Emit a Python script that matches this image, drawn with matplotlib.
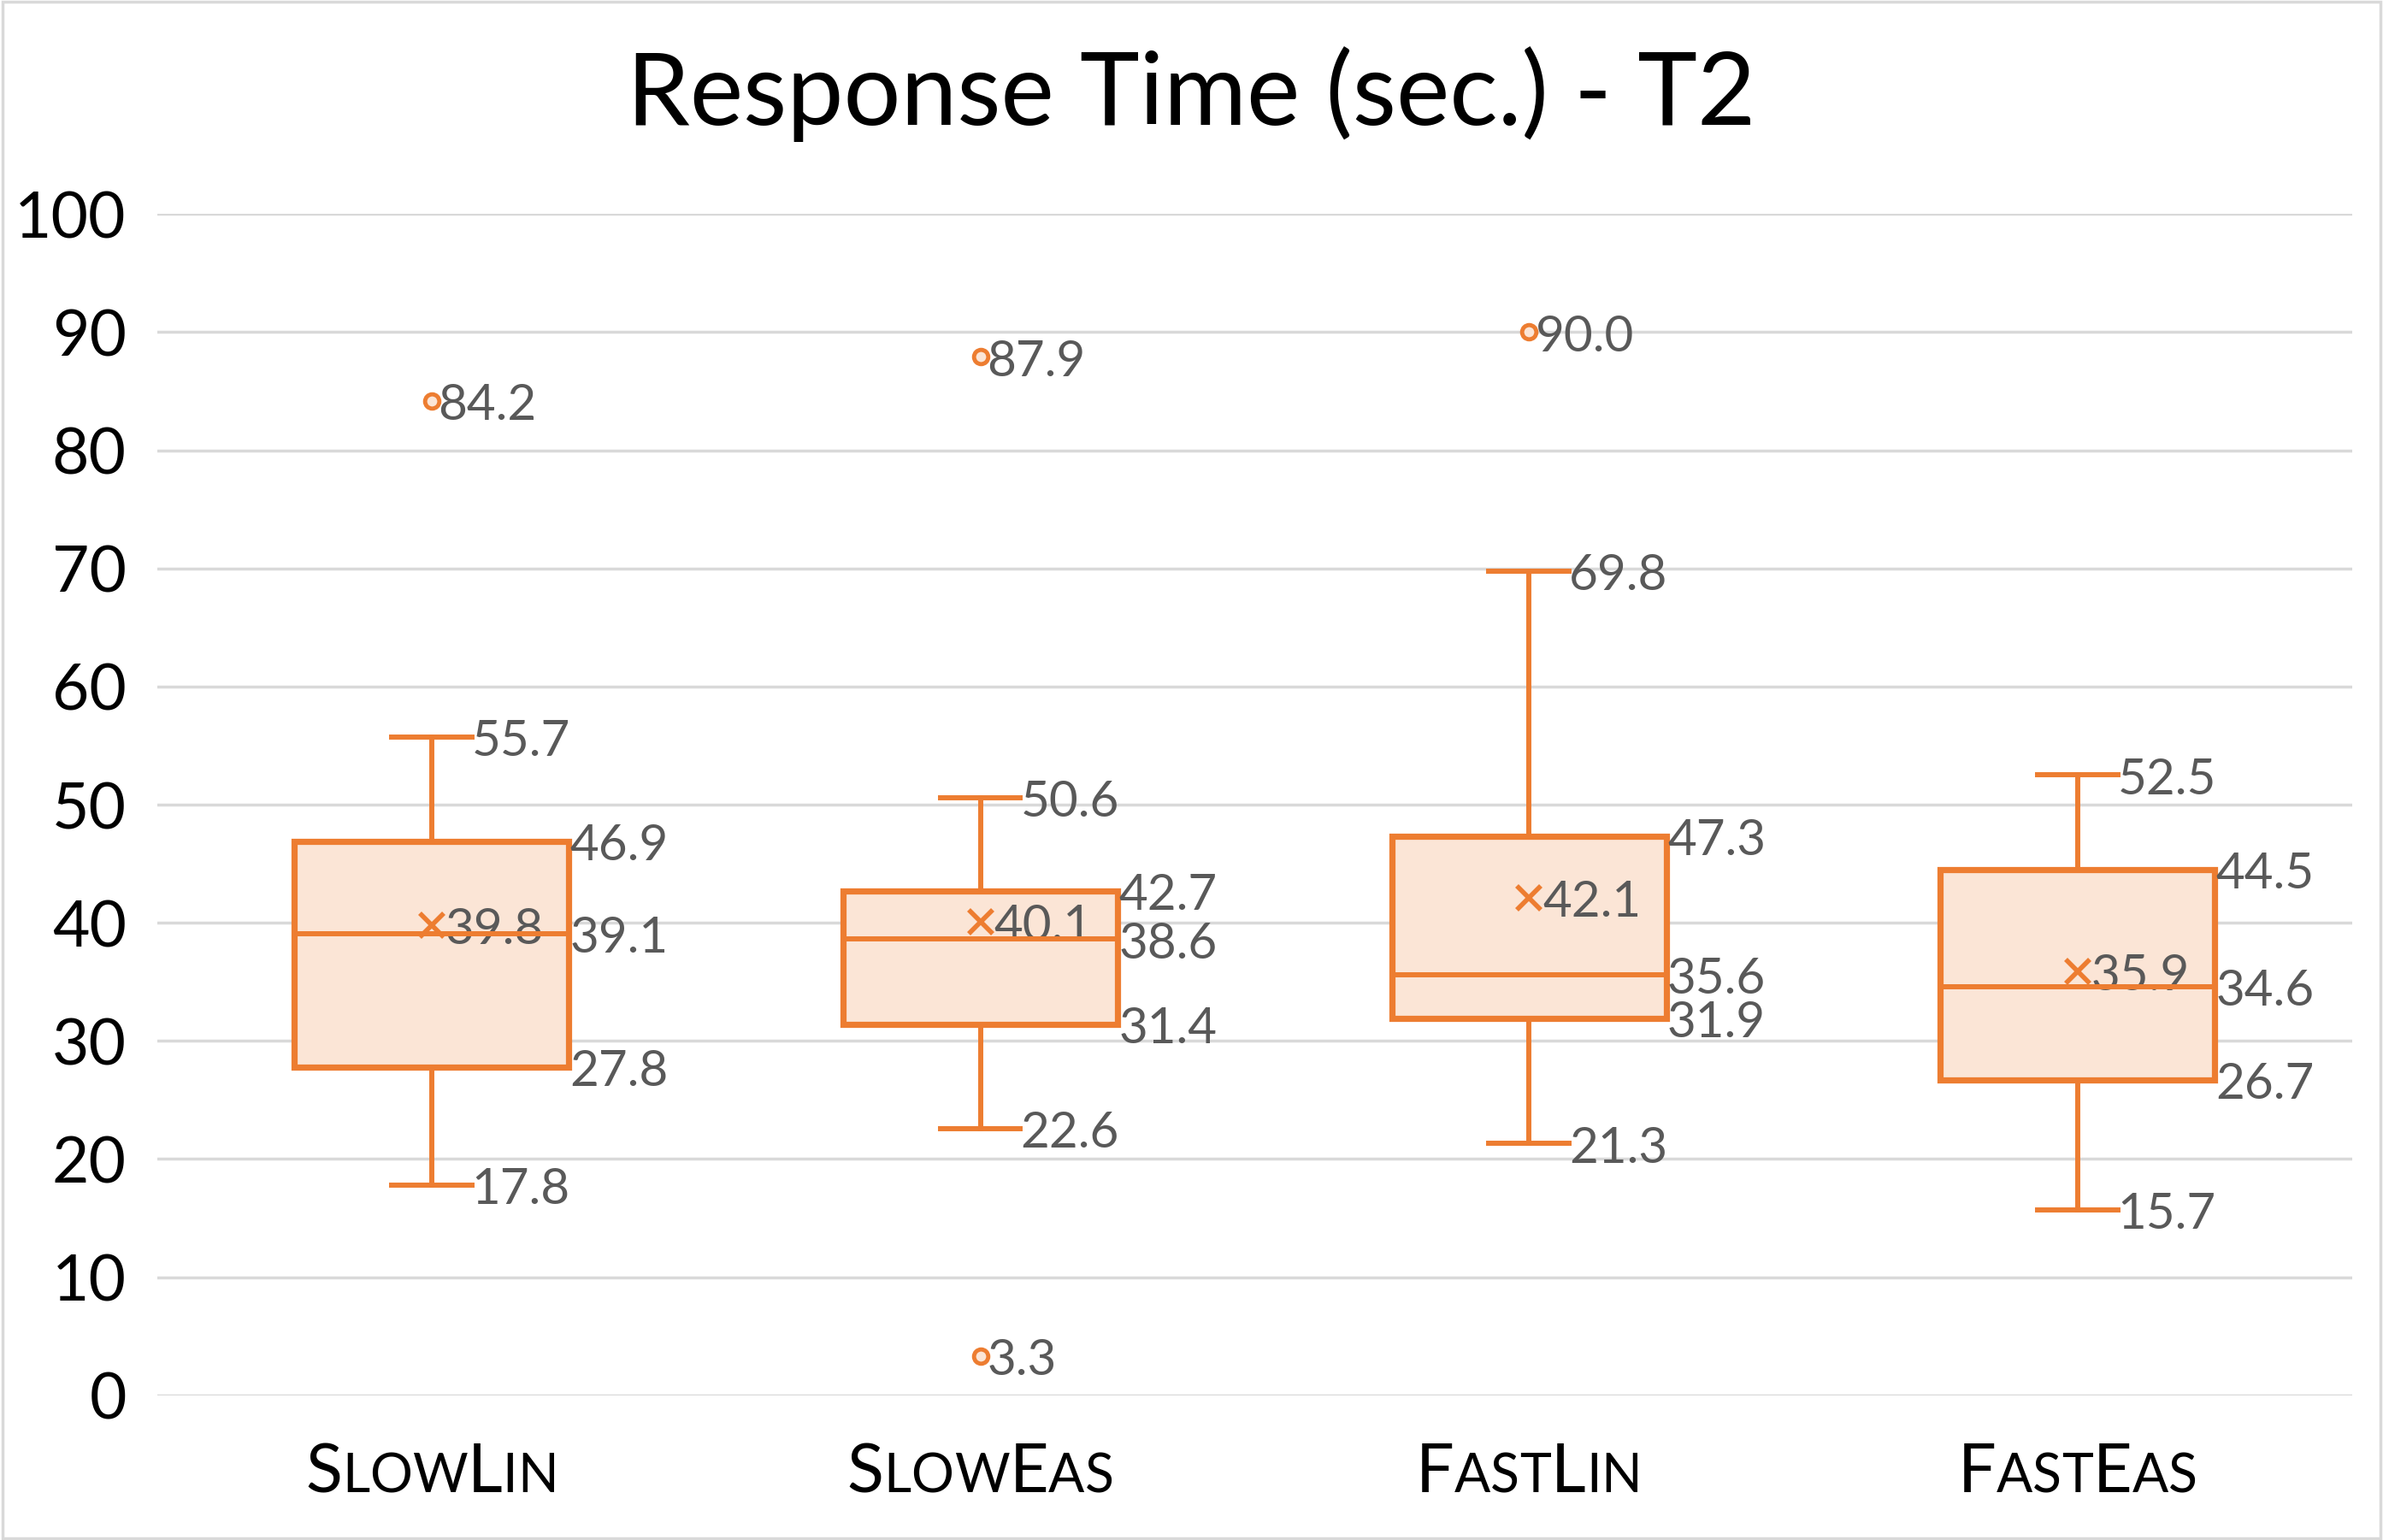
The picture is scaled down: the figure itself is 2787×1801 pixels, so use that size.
import matplotlib
matplotlib.use("Agg")
import matplotlib.pyplot as plt
from matplotlib.offsetbox import TextArea, HPacker, AnnotationBbox
from matplotlib.patches import Rectangle

plt.rcParams['font.family'] = ['Lato', 'DejaVu Sans']

# data
groups = ['SlowLin', 'SlowEas', 'FastLin', 'FastEas']
whislo = [17.8, 22.6, 21.3, 15.7]
q1 = [27.8, 31.4, 31.9, 26.7]
med = [39.1, 38.6, 35.6, 34.6]
q3 = [46.9, 42.7, 47.3, 44.5]
whishi = [55.7, 50.6, 69.8, 52.5]
means = [39.8, 40.1, 42.1, 35.9]
fliers = [[84.2], [87.9, 3.3], [90.0], []]

orange = '#ED7D31'
fill = '#FBE5D6'
lab_col = '#595959'

fig = plt.figure(figsize=(27.87, 18.01), dpi=100)
ax = fig.add_axes([0.066, 0.094, 0.921, 0.767])

stats = []
for i in range(len(groups)):
    stats.append(dict(label=groups[i], whislo=whislo[i], q1=q1[i], med=med[i],
                      q3=q3[i], whishi=whishi[i], mean=means[i], fliers=fliers[i]))

ax.bxp(stats, positions=range(len(groups)), widths=0.5, patch_artist=True,
       showmeans=True, showfliers=True,
       boxprops=dict(facecolor=fill, edgecolor=orange, linewidth=5.2),
       medianprops=dict(color=orange, linewidth=4.3),
       whiskerprops=dict(color=orange, linewidth=4.3),
       capprops=dict(color=orange, linewidth=4.3),
       capwidths=0.146,
       meanprops=dict(marker='x', markeredgecolor=orange, markersize=20, markeredgewidth=4),
       flierprops=dict(marker='o', markerfacecolor=fill, markeredgecolor=orange,
                       markersize=12, markeredgewidth=3.5),
       zorder=3)

# data labels (sit a touch below their value, like the original)
fs_lab = 42
dy = -0.4
for i in range(len(groups)):
    ax.text(i + 0.073, whishi[i] + dy, f'{whishi[i]:.1f}', fontsize=fs_lab, color=lab_col, va='center', ha='left')
    ax.text(i + 0.073, whislo[i] + dy, f'{whislo[i]:.1f}', fontsize=fs_lab, color=lab_col, va='center', ha='left')
    for v in (q1[i], med[i], q3[i]):
        ax.text(i + 0.252, v + dy, f'{v:.1f}', fontsize=fs_lab, color=lab_col, va='center', ha='left')
    ax.text(i + 0.025, means[i] + dy, f'{means[i]:.1f}', fontsize=fs_lab, color=lab_col, va='center', ha='left')
    for f in fliers[i]:
        ax.text(i + 0.012, f + dy, f'{f:.1f}', fontsize=fs_lab, color=lab_col, va='center', ha='left')

ax.set_xlim(-0.5, 3.5)
ax.set_ylim(0, 100)
ax.set_yticks(range(0, 101, 10))
ax.tick_params(axis='y', labelsize=54, length=0, pad=26, labelcolor='black')
ax.tick_params(axis='x', length=0, labelbottom=False)
ax.grid(axis='y', color='#D9D9D9', linewidth=2.5, zorder=0)
ax.set_axisbelow(True)
for s in ax.spines.values():
    s.set_visible(False)

# small caps category labels
big, small = 57, 45
for i, name in enumerate(groups):
    parts = []
    for ch in name:
        if ch.isupper():
            parts.append(TextArea(ch, textprops=dict(fontsize=big, color='black')))
        else:
            parts.append(TextArea(ch.upper(), textprops=dict(fontsize=small, color='black')))
    pack = HPacker(children=parts, align='baseline', pad=0, sep=0)
    ab = AnnotationBbox(pack, (i, 0), xycoords=('data', 'axes fraction'),
                        xybox=(0, -40), boxcoords='offset points',
                        box_alignment=(0.5, 1), frameon=False)
    ax.add_artist(ab)

fig.text(0.5, 0.939, 'Response Time (sec.) - T2', fontsize=85, ha='center', va='center', color='black')

fig.patches.append(Rectangle((0.001, 0.001), 0.998, 0.998, transform=fig.transFigure,
                             fill=False, edgecolor='#D9D9D9', linewidth=2.5))

fig.savefig('out.png', dpi=100)
